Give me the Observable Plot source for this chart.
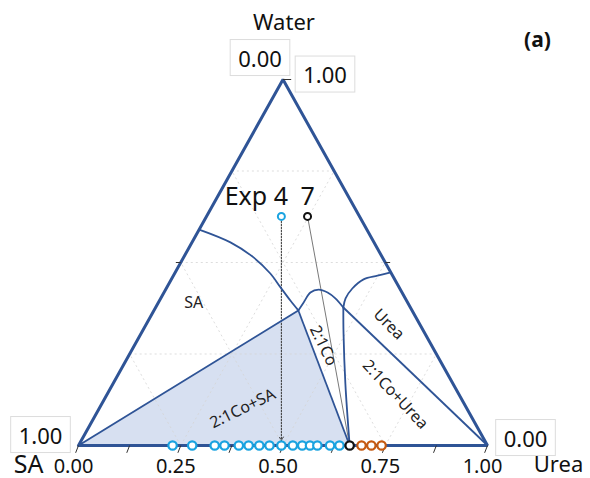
<!DOCTYPE html>
<html>
<head>
<meta charset="utf-8">
<script src="https://cdn.jsdelivr.net/npm/d3@7"></script>
<script src="https://cdn.jsdelivr.net/npm/@observablehq/plot@0.6"></script>
<style>
  html, body { margin: 0; padding: 0; background: #fff; }
  #chart { width: 590px; height: 478px; }
</style>
</head>
<body>
<div id="chart"></div>
<script>
// ---------- data (ternary compositions: urea fraction u, water fraction w) ----------
const bottomTickValues = [0, 0.125, 0.25, 0.375, 0.5, 0.625, 0.75, 0.875, 1];
const bottomLabelValues = [0, 0.25, 0.5, 0.75, 1];
const bottomLabels = ["0.00", "0.25", "0.50", "0.75", "1.00"];
const gridValues = [0.25, 0.5, 0.75];

// SA solubility curve (left edge -> invariant point 1)
const saCurveUrea  = [0.000, 0.094, 0.171, 0.234, 0.278, 0.320, 0.353];
const saCurveWater = [0.590, 0.555, 0.514, 0.470, 0.432, 0.396, 0.369];
// 2:1 cocrystal solubility curve (invariant 1 -> invariant 2)
const coCurveUrea  = [0.353, 0.355, 0.358, 0.374, 0.400, 0.427, 0.459];
const coCurveWater = [0.369, 0.391, 0.418, 0.426, 0.418, 0.402, 0.377];
// Urea solubility curve (right edge -> invariant 2)
const ureaCurveUrea  = [0.527, 0.499, 0.470, 0.455, 0.452, 0.459];
const ureaCurveWater = [0.473, 0.464, 0.454, 0.429, 0.402, 0.377];
// tie line invariant 2 -> cocrystal composition
const coTieUrea  = [0.459, 0.495, 0.568, 0.663];
const coTieWater = [0.377, 0.306, 0.169, 0.000];
// other straight boundaries
const inv1 = {u: 0.353, w: 0.369};
const inv2 = {u: 0.459, w: 0.377};
const coPoint = {u: 0.663, w: 0};
const saVertex = {u: 0, w: 0};
const ureaVertex = {u: 1, w: 0};
const waterVertex = {u: 0, w: 1};

// experimental points on the base (urea fraction, water = 0)
const blueUrea   = [0.230, 0.278, 0.333, 0.357, 0.392, 0.416, 0.442, 0.467, 0.496, 0.524, 0.547, 0.566, 0.584, 0.615, 0.638];
const blackUrea  = [0.663];
const orangeUrea = [0.692, 0.716, 0.741];

// starting compositions of experiments
const expNames = ["4", "7"];
const expUrea  = [0.183, 0.247];
const expWater = [0.626, 0.626];
const expEndUrea = [0.496, 0.663];
const expColors = ["#1aa3e0", "#111111"];

// region labels
const regionNames = ["SA", "2:1Co+SA", "2:1Co", "Urea", "2:1Co+Urea"];
const regionUrea  = [0.086, 0.351, 0.462, 0.593, 0.705];
const regionWater = [0.391, 0.101, 0.273, 0.331, 0.139];
const regionAngle = [0, -26, 64, 45, 47];

// ---------- ternary helpers ----------
const tx = (u, w) => u + w / 2;
const toXY = (u, w) => ({x: tx(u, w), y: w});
const curve = (us, ws) => us.map((u, i) => toXY(u, ws[i]));

const blue = "#2f5496";
const triangle = [saVertex, ureaVertex, waterVertex, saVertex].map(p => toXY(p.u, p.w));
const shaded = [saVertex, inv1, coPoint].map(p => toXY(p.u, p.w));

const grid = [];
for (const c of gridValues) {
  grid.push({x1: tx(0, c), y1: c, x2: tx(1 - c, c), y2: c});           // water = c
  grid.push({x1: tx(c, 0), y1: 0, x2: tx(c, 1 - c), y2: 1 - c});       // urea = c
  grid.push({x1: tx(1 - c, 0), y1: 0, x2: tx(0, 1 - c), y2: 1 - c});   // SA = c
}
const straight = [
  [inv1, saVertex], [inv1, coPoint], [inv2, ureaVertex]
].map(([a, b]) => ({x1: tx(a.u, a.w), y1: a.w, x2: tx(b.u, b.w), y2: b.w}));

const bottomTicks = bottomTickValues.map(v => ({x1: v, y1: 0, x2: v - 0.007, y2: -0.02}));
const edgeTicks = [
  {x1: tx(0, 0.5), y1: 0.5, x2: tx(0, 0.5) - 0.012, y2: 0.5},
  {x1: tx(0.5, 0.5), y1: 0.5, x2: tx(0.5, 0.5) + 0.012, y2: 0.5},
  {x1: 0.5, y1: 1, x2: 0.52, y2: 1}
];

const baseDots = [
  ...blueUrea.map(u => ({x: u, y: 0, c: "#1aa3e0"})),
  ...orangeUrea.map(u => ({x: u, y: 0, c: "#c55a11"})),
  ...blackUrea.map(u => ({x: u, y: 0, c: "#111111"}))
];
const exps = expNames.map((n, i) => ({
  name: n, x: tx(expUrea[i], expWater[i]), y: expWater[i],
  xe: tx(expEndUrea[i], 0), ye: 0, c: expColors[i]
}));
const regions = regionNames.map((n, i) => ({
  name: n, x: tx(regionUrea[i], regionWater[i]), y: regionWater[i], a: regionAngle[i]
}));
const bottomLabelData = bottomLabelValues.map((v, i) => ({x: v, y: 0, t: bottomLabels[i]}));

const font = "'Noto Sans', 'Open Sans', sans-serif";
const apex = [toXY(waterVertex.u, waterVertex.w)];
const left = [toXY(saVertex.u, saVertex.w)];
const right = [toXY(ureaVertex.u, ureaVertex.w)];

const chart = Plot.plot({
  width: 590,
  height: 478,
  marginLeft: 78,
  marginRight: 103,
  marginTop: 79,
  marginBottom: 33,
  x: {domain: [0, 1], axis: null},
  y: {domain: [0, 1], axis: null},
  style: {fontFamily: font, background: "white", overflow: "visible", color: "#111"},
  marks: [
    Plot.areaY(shaded, {x: "x", y: "y", fill: "#d7e0f1"}),
    Plot.link(grid, {x1: "x1", y1: "y1", x2: "x2", y2: "y2", stroke: "#d4d4d4", strokeWidth: 0.8, strokeDasharray: "2,3"}),
    // experiment paths
    Plot.arrow(exps.filter(d => d.name === "4"), {x1: "x", y1: "y", x2: "xe", y2: "ye", stroke: "#333", strokeWidth: 1, strokeDasharray: "1.5,1.5", headLength: 6, insetStart: 5, insetEnd: 5}),
    Plot.link(exps.filter(d => d.name === "7"), {x1: "x", y1: "y", x2: "xe", y2: "ye", stroke: "#555", strokeWidth: 0.8}),
    // phase boundaries
    Plot.line(curve(saCurveUrea, saCurveWater), {x: "x", y: "y", stroke: blue, strokeWidth: 1.8, curve: "catmull-rom"}),
    Plot.line(curve(coCurveUrea, coCurveWater), {x: "x", y: "y", stroke: blue, strokeWidth: 1.8, curve: "catmull-rom"}),
    Plot.line(curve(ureaCurveUrea, ureaCurveWater), {x: "x", y: "y", stroke: blue, strokeWidth: 1.8, curve: "catmull-rom"}),
    Plot.line(curve(coTieUrea, coTieWater), {x: "x", y: "y", stroke: blue, strokeWidth: 1.8, curve: "catmull-rom"}),
    Plot.link(straight, {x1: "x1", y1: "y1", x2: "x2", y2: "y2", stroke: blue, strokeWidth: 1.8}),
    // triangle frame
    Plot.line(triangle, {x: "x", y: "y", stroke: blue, strokeWidth: 3, strokeLinejoin: "miter"}),
    Plot.link(bottomTicks, {x1: "x1", y1: "y1", x2: "x2", y2: "y2", stroke: "#333", strokeWidth: 1}),
    Plot.link(edgeTicks, {x1: "x1", y1: "y1", x2: "x2", y2: "y2", stroke: "#333", strokeWidth: 1}),
    // points
    Plot.dot(baseDots, {x: "x", y: "y", r: 4.2, stroke: "c", fill: "white", strokeWidth: 2.2}),
    Plot.dot(exps, {x: "x", y: "y", r: 3.5, stroke: "c", fill: "white", strokeWidth: 2}),
    // texts
    Plot.text(exps.filter(d => d.name === "4"), {x: "x", y: "y", text: d => "Exp " + d.name, dx: -25, dy: -19, fontSize: 25, fill: "#111"}),
    Plot.text(exps.filter(d => d.name === "7"), {x: "x", y: "y", text: "name", dy: -19, fontSize: 25, fill: "#111"}),
    Plot.text(regions, {x: "x", y: "y", text: "name", rotate: "a", fontSize: 16, fill: "#222"}),
    Plot.text(bottomLabelData, {x: "x", y: "y", text: "t", dy: 21, dx: -5, fontSize: 20, fill: "#111"}),
    Plot.text(apex, {x: "x", y: "y", text: ["Water"], dy: -57, dx: 1, fontSize: 22, fill: "#111"}),
    Plot.text(apex, {x: "x", y: "y", text: ["0.00"], dy: -20, dx: -23, fontSize: 22, fill: "#111", className: "boxed"}),
    Plot.text(apex, {x: "x", y: "y", text: ["1.00"], dy: -3.5, dx: 42, fontSize: 22, fill: "#111", className: "boxed"}),
    Plot.text(left, {x: "x", y: "y", text: ["1.00"], dy: -9, dx: -38, fontSize: 22, fill: "#111", className: "boxed"}),
    Plot.text(right, {x: "x", y: "y", text: ["0.00"], dy: -6, dx: 38, fontSize: 22, fill: "#111", className: "boxed"}),
    Plot.text(left, {x: "x", y: "y", text: ["SA"], dy: 19, dx: -50, fontSize: 25, fill: "#111"}),
    Plot.text(right, {x: "x", y: "y", text: ["Urea"], dy: 19, dx: 71, fontSize: 22, fill: "#111"}),
    Plot.text(["(a)"], {frameAnchor: "top-right", text: d => d, dx: 50, dy: -39, fontSize: 21, fontWeight: "bold", fill: "#111", textAnchor: "middle", lineAnchor: "middle"})
  ]
});

document.getElementById("chart").appendChild(chart);

// boxes behind the corner value labels
d3.select(chart).selectAll("g.boxed text").each(function () {
  const bb = this.getBBox();
  const tr = this.getAttribute("transform");
  const g = this.parentNode;
  const rect = document.createElementNS("http://www.w3.org/2000/svg", "rect");
  rect.setAttribute("x", bb.x - 8);
  rect.setAttribute("y", bb.y - 3);
  rect.setAttribute("width", bb.width + 16);
  rect.setAttribute("height", bb.height + 6);
  rect.setAttribute("fill", "white");
  rect.setAttribute("stroke", "#dcdcdc");
  rect.setAttribute("stroke-width", "1");
  if (tr) rect.setAttribute("transform", tr);
  g.insertBefore(rect, this);
});
</script>
</body>
</html>
